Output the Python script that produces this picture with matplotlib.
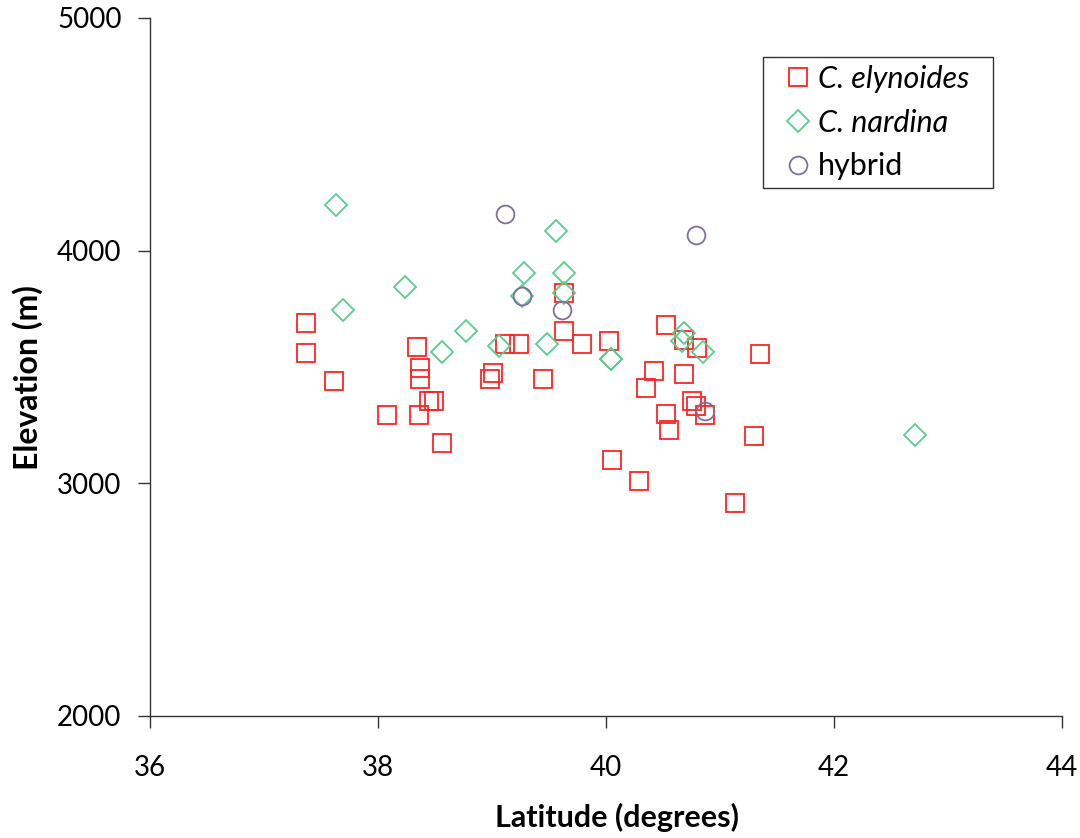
import matplotlib
matplotlib.use("Agg")
import matplotlib.pyplot as plt

# C. elynoides (red squares)
ely_lat = [37.37, 37.37, 37.61, 38.08, 38.34, 38.37, 38.37, 38.45, 38.49, 38.36,
           38.56, 39.63, 39.63, 39.11, 39.24, 39.79, 40.03, 39.01, 38.98, 39.45,
           40.42, 40.35, 40.05, 40.29, 40.53, 40.68, 40.80, 41.35, 40.68, 40.75,
           40.79, 40.87, 40.53, 40.55, 41.30, 41.13]
ely_elev = [3689, 3562, 3439, 3295, 3586, 3494, 3449, 3356, 3356, 3295,
            3173, 3819, 3656, 3598, 3598, 3598, 3612, 3473, 3447, 3447,
            3483, 3411, 3100, 3010, 3681, 3616, 3580, 3556, 3471, 3355,
            3334, 3295, 3297, 3229, 3205, 2914]

# C. nardina (green diamonds)
nar_lat = [37.63, 38.24, 37.69, 38.77, 38.56, 39.06, 39.48, 39.56, 39.28, 39.63,
           39.26, 39.63, 40.04, 40.04, 40.68, 40.67, 40.85, 42.71]
nar_elev = [4196, 3843, 3744, 3656, 3566, 3590, 3598, 4085, 3904, 3904,
            3806, 3817, 3536, 3536, 3647, 3613, 3566, 3208]

# hybrid (purple circles)
hyb_lat = [39.11, 39.26, 39.61, 40.79, 40.87]
hyb_elev = [4156, 3806, 3746, 4066, 3311]

x_ticks = [36, 38, 40, 42, 44]
y_ticks = [2000, 3000, 4000, 5000]

plt.rcParams['font.family'] = ['Lato', 'DejaVu Sans']

fig = plt.figure(figsize=(10.8, 8.38), dpi=100)
ax = fig.add_axes([150/1080, 1-716/838, 912/1080, 698/838])

red = '#FF2424'
green = '#5CCB8C'
purple = '#7E7099'

ax.plot(ely_lat, ely_elev, ls='none', marker='s', ms=13.3, mfc='none',
        mec=red, mew=1.3, label='C. elynoides')
ax.plot(nar_lat, nar_elev, ls='none', marker='D', ms=11.7, mfc='none',
        mec=green, mew=1.3, label='C. nardina')
ax.plot(hyb_lat, hyb_elev, ls='none', marker='o', ms=12.8, mfc='none',
        mec=purple, mew=1.3, label='hybrid')

ax.set_xlim(36, 44)
ax.set_ylim(2000, 5000)
ax.set_xticks(x_ticks)
ax.set_yticks(y_ticks)
ax.tick_params(axis='both', direction='out', length=8.5, width=1, color='#333333',
               labelsize=20)
ax.tick_params(axis='y', pad=12)
ax.tick_params(axis='x', pad=19.5)
for s in ['top', 'right']:
    ax.spines[s].set_visible(False)
for s in ['left', 'bottom']:
    ax.spines[s].set_color('#333333')
    ax.spines[s].set_linewidth(1)

ax.set_xlabel('Latitude (degrees)', fontsize=22, fontweight='bold')
ax.set_ylabel('Elevation (m)', fontsize=23, fontweight='bold')
ax.xaxis.set_label_coords(0.512, -0.125)
ax.yaxis.set_label_coords(-0.117, 0.485)

ax_w = 912.0
ax_h = 698.0
leg = ax.legend(loc='upper left',
                bbox_to_anchor=((763-150)/ax_w, (716-187)/ax_h, 230/ax_w, 130/ax_h),
                mode='expand', frameon=True, fancybox=False, edgecolor='black',
                fontsize=22, handlelength=1.8, handletextpad=-0.26,
                borderpad=0.25, labelspacing=0.52, borderaxespad=0)
leg.get_frame().set_linewidth(1)
texts = leg.get_texts()
texts[0].set_fontstyle('italic')
texts[1].set_fontstyle('italic')

fig.savefig('out.png', dpi=100)
